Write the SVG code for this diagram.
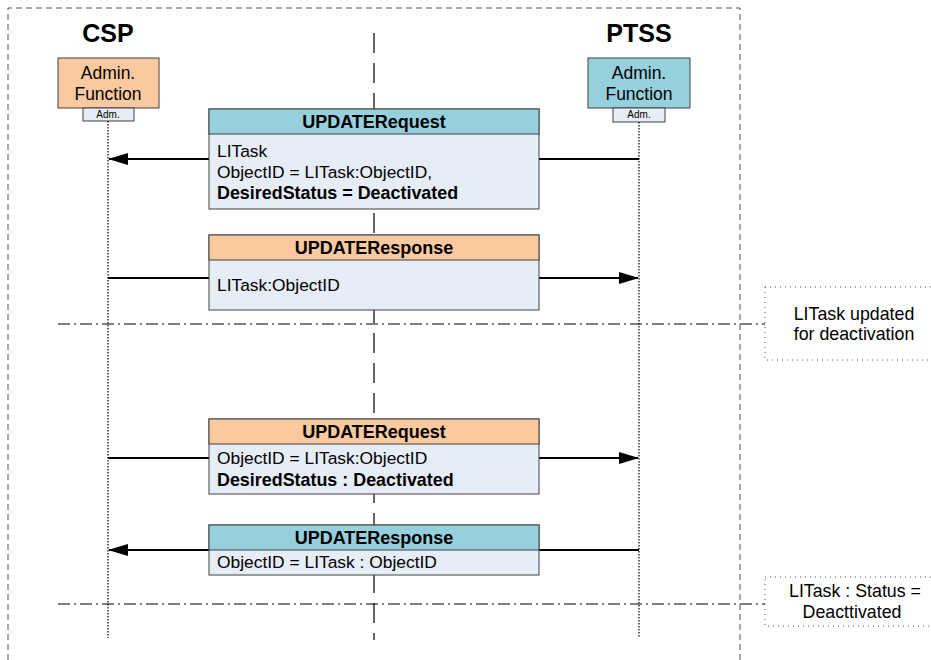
<svg xmlns="http://www.w3.org/2000/svg" width="931" height="660" viewBox="0 0 931 660">
<defs>
<style>
text{font-family:"Liberation Sans",Arial,sans-serif;fill:#000}
.title{font-size:25px;font-weight:bold;text-anchor:middle}
.fn{font-size:17.5px;text-anchor:middle}
.adm{font-size:10px;text-anchor:middle}
.hdr{font-size:18px;font-weight:bold;text-anchor:middle}
.body{font-size:17.4px}
.b{font-weight:bold;font-size:17.9px}
.note{font-size:17.8px;text-anchor:middle}
.teal{fill:#96D0DC;stroke:#404040;stroke-width:1}
.peach{fill:#FAC9A0;stroke:#404040;stroke-width:1}
.light{fill:#E6EDF7;stroke:#404040;stroke-width:1}
.life{stroke:#000;stroke-width:1.2;stroke-dasharray:1.5 1.5;fill:none}
.msg{stroke:#000;stroke-width:2;fill:none}
.sep{stroke:#000;stroke-width:1;stroke-dasharray:12 4 2 4;fill:none}
.notebox{fill:#fff;stroke:#555;stroke-width:1;stroke-dasharray:1 4}
</style>
<marker id="ah" markerWidth="20" markerHeight="12" refX="19" refY="6" orient="auto" markerUnits="userSpaceOnUse">
<path d="M0,0 L20,6 L0,12 Z" fill="#000"/>
</marker>
</defs>
<rect width="931" height="660" fill="#fff"/>
<path d="M8,670 L8,8 L740,8 L740,670" fill="none" stroke="#555" stroke-width="1" stroke-dasharray="6 4"/>
<line x1="374" y1="33" x2="374" y2="640" stroke="#000" stroke-width="1.2" stroke-dasharray="20 10"/>

<g id="csp">
<text class="title" x="108" y="42">CSP</text>
<rect class="peach" x="58" y="58" width="101" height="50"/>
<text class="fn" x="108" y="79">Admin.</text>
<text class="fn" x="108" y="100">Function</text>
<rect class="light" x="83" y="108" width="51" height="13"/>
<text class="adm" x="108" y="118">Adm.</text>
</g>
<g id="ptss">
<text class="title" x="639" y="42">PTSS</text>
<rect class="teal" x="588" y="58" width="102" height="50"/>
<text class="fn" x="639" y="79">Admin.</text>
<text class="fn" x="639" y="100">Function</text>
<rect class="light" x="613" y="108" width="52" height="14"/>
<text class="adm" x="639" y="118">Adm.</text>
</g>

<g id="connectors">
<line class="life" x1="108" y1="121" x2="108" y2="638"/>
<line class="life" x1="639" y1="122" x2="639" y2="638"/>
<line class="msg" x1="639" y1="159" x2="539" y2="159"/>
<line class="msg" x1="209" y1="159" x2="109" y2="159" marker-end="url(#ah)"/>
<line class="msg" x1="108" y1="278" x2="209" y2="278"/>
<line class="msg" x1="539" y1="278" x2="638" y2="278" marker-end="url(#ah)"/>
<line class="msg" x1="108" y1="458" x2="209" y2="458"/>
<line class="msg" x1="539" y1="458" x2="638" y2="458" marker-end="url(#ah)"/>
<line class="msg" x1="639" y1="550" x2="539" y2="550"/>
<line class="msg" x1="209" y1="550" x2="109" y2="550" marker-end="url(#ah)"/>
<line class="sep" x1="58" y1="324" x2="765" y2="324"/>
<line class="sep" x1="58" y1="604" x2="765" y2="604"/>
</g>

<g id="msg1">
<rect class="light" x="209" y="109" width="330" height="100"/>
<rect class="teal" x="209" y="109" width="330" height="25"/>
<text class="hdr" x="374" y="128">UPDATERequest</text>
<text class="body" x="217" y="157">LITask</text>
<text class="body" x="217" y="178">ObjectID = LITask:ObjectID,</text>
<text class="body b" x="217" y="199">DesiredStatus = Deactivated</text>
</g>
<g id="msg2">
<rect class="light" x="209" y="235" width="330" height="75"/>
<rect class="peach" x="209" y="235" width="330" height="25"/>
<text class="hdr" x="374" y="254">UPDATEResponse</text>
<text class="body" x="217" y="291">LITask:ObjectID</text>
</g>
<g id="note1">
<rect class="notebox" x="765" y="287" width="175" height="73"/>
<text class="note" x="854" y="320">LITask updated</text>
<text class="note" x="854" y="340">for deactivation</text>
</g>
<g id="msg3">
<rect class="light" x="209" y="419" width="330" height="75"/>
<rect class="peach" x="209" y="419" width="330" height="25"/>
<text class="hdr" x="374" y="438">UPDATERequest</text>
<text class="body" x="217" y="464">ObjectID = LITask:ObjectID</text>
<text class="body b" x="217" y="486">DesiredStatus : Deactivated</text>
</g>
<g id="msg4">
<rect class="light" x="209" y="525" width="330" height="50"/>
<rect class="teal" x="209" y="525" width="330" height="25"/>
<text class="hdr" x="374" y="544">UPDATEResponse</text>
<text class="body" x="217" y="568">ObjectID = LITask : ObjectID</text>
</g>
<g id="note2">
<rect class="notebox" x="765" y="577" width="175" height="49"/>
<text class="note" x="855" y="597">LITask : Status =</text>
<text class="note" x="852" y="618">Deacttivated</text>
</g>
</svg>
